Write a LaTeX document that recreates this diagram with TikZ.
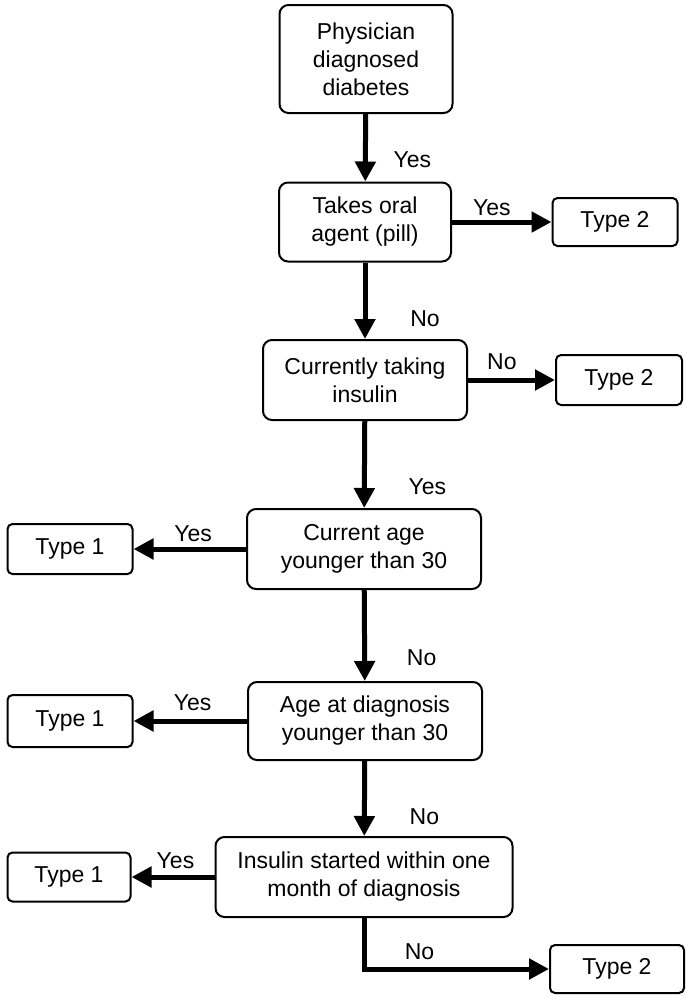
\documentclass[tikz,border=0pt]{standalone}
\usepackage{fontspec}
\setmainfont{Liberation Sans}
\usetikzlibrary{arrows.meta}

\begin{document}
\begin{tikzpicture}[x=1pt, y=-1pt,
    every node/.style={font=\fontsize{23}{28}\selectfont},
    decision/.style={draw, line width=2pt, rounded corners=9pt, align=center, inner sep=0pt},
    outcome/.style={draw, line width=2pt, rounded corners=5pt, minimum width=125pt, minimum height=50pt, inner sep=0pt},
    flow/.style={line width=5pt, -{Triangle[length=20pt,width=20pt]}},
    lbl/.style={inner sep=0pt}]
\useasboundingbox (0,0) rectangle (687,996);
% questions down the middle
\node[decision, minimum width=173pt, minimum height=108pt] (phys)  at (366,59)  {Physician\\diagnosed\\diabetes};
\node[decision, minimum width=172pt, minimum height=79pt]  (oral)  at (365,222) {Takes oral\\agent (pill)};
\node[decision, minimum width=204pt, minimum height=80pt]  (insul) at (365,380) {Currently taking\\insulin};
\node[decision, minimum width=234pt, minimum height=80pt]  (age)   at (364,549) {Current age\\younger than 30};
\node[decision, minimum width=234pt, minimum height=78pt]  (diag)  at (365,721) {Age at diagnosis\\younger than 30};
\node[decision, minimum width=297pt, minimum height=80pt]  (start) at (364,877) {Insulin started within one\\month of diagnosis};
% outcomes
\node[outcome, minimum height=48pt] (typeA) at (615,222) {Type 2};
\node[outcome, minimum width=126pt] (typeB) at (619,380) {Type 2};
\node[outcome] (typeC) at (70,549) {Type 1};
\node[outcome, minimum height=52pt] (typeD) at (70,721) {Type 1};
\node[outcome, minimum width=123pt, minimum height=49pt] (typeE) at (69,877) {Type 1};
\node[outcome, minimum width=134pt, minimum height=48pt] (typeF) at (617,969) {Type 2};
% arrows
\draw[flow] (phys)  -- node[lbl, pos=.68, xshift=47pt] {Yes} (oral);
\draw[flow] (oral)  -- node[lbl, pos=.40, yshift=14pt] {Yes} (typeA);
\draw[flow] (oral)  -- node[lbl, pos=.73, xshift=60pt] {No} (insul);
\draw[flow] (insul) -- node[lbl, pos=.39, yshift=18pt] {No} (typeB);
\draw[flow] (insul) -- node[lbl, pos=.76, xshift=63pt] {Yes} (age);
\draw[flow] (age)   -- node[lbl, pos=.47, yshift=15pt] {Yes} (typeC);
\draw[flow] (age)   -- node[lbl, pos=.74, xshift=57pt] {No} (diag);
\draw[flow] (diag)  -- node[lbl, pos=.48, yshift=18pt] {Yes} (typeD);
\draw[flow] (diag)  -- node[lbl, pos=.74, xshift=60pt] {No} (start);
\draw[flow] (start) -- node[lbl, pos=.47, yshift=16pt] {Yes} (typeE);
\draw[flow] (start) |- node[lbl, pos=.65, yshift=17pt] {No} (typeF);
\end{tikzpicture}
\end{document}
